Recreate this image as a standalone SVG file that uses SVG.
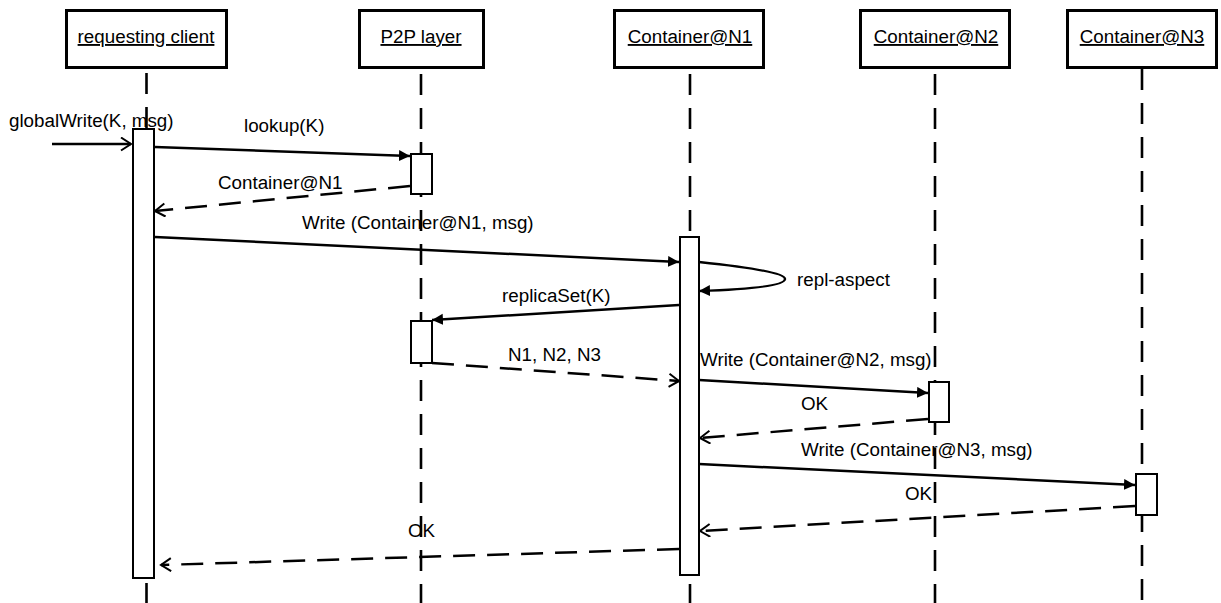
<svg xmlns="http://www.w3.org/2000/svg" width="1221" height="603" viewBox="0 0 1221 603">
<style>
text{font-family:"Liberation Sans",Arial,sans-serif;font-size:18.8px;fill:#000}
.hdr{fill:#fff;stroke:#000;stroke-width:3}
.ul{text-decoration:underline}
.life{stroke:#000;stroke-width:2.6;stroke-dasharray:21 13;fill:none}
.act{fill:#fff;stroke:#000;stroke-width:2}
.msg{stroke:#000;stroke-width:2.5;fill:none;marker-end:url(#filled)}
.ret{stroke:#000;stroke-width:2.5;fill:none;stroke-dasharray:22 12;marker-end:url(#open)}
</style>
<defs>
<marker id="filled" markerUnits="userSpaceOnUse" markerWidth="13" markerHeight="13" refX="11" refY="5.5" orient="auto">
<path d="M0,0 L11,5.5 L0,11 z" fill="#000" stroke="none"/>
</marker>
<marker id="open" markerUnits="userSpaceOnUse" markerWidth="14" markerHeight="16" refX="11" refY="7" orient="auto">
<path d="M1,0.5 L11,7 L1,13.5" fill="none" stroke="#000" stroke-width="2" stroke-dasharray="none"/>
</marker>
</defs>
<rect width="1221" height="603" fill="#fff"/>

<g id="lifelines">
<line class="life" x1="146.5" y1="73" x2="146.5" y2="603"/>
<line class="life" x1="421" y1="74" x2="421" y2="603"/>
<line class="life" x1="690" y1="74" x2="690" y2="603"/>
<line class="life" x1="935" y1="74" x2="935" y2="603"/>
<line class="life" x1="1142" y1="69" x2="1142" y2="603"/>
</g>

<g id="client">
<rect class="hdr" x="66.5" y="10.5" width="160" height="57"/>
<text class="ul" x="146" y="43" text-anchor="middle">requesting client</text>
<rect class="act" x="133" y="129" width="21" height="449"/>
</g>
<g id="p2p">
<rect class="hdr" x="359.5" y="10.5" width="124" height="57"/>
<text class="ul" x="421" y="43" text-anchor="middle">P2P layer</text>
<rect class="act" x="411" y="154" width="21" height="40"/>
<rect class="act" x="411" y="321" width="21" height="42"/>
</g>
<g id="n1">
<rect class="hdr" x="614.5" y="10.5" width="149" height="57"/>
<text class="ul" x="690" y="43" text-anchor="middle">Container@N1</text>
<rect class="act" x="680" y="237" width="19" height="338"/>
</g>
<g id="n2">
<rect class="hdr" x="860.5" y="10.5" width="149" height="57"/>
<text class="ul" x="936" y="43" text-anchor="middle">Container@N2</text>
<rect class="act" x="929" y="382" width="20" height="40"/>
</g>
<g id="n3">
<rect class="hdr" x="1067.5" y="10.5" width="149" height="57"/>
<text class="ul" x="1142" y="43" text-anchor="middle">Container@N3</text>
<rect class="act" x="1136" y="474" width="21" height="41"/>
</g>

<g id="connectors">
<path d="M52,144 L131,144" stroke="#000" stroke-width="2.5" fill="none" marker-end="url(#open)"/>
<path class="msg" d="M155,147 L410,156"/>
<path class="ret" d="M410,186 L155,211"/>
<path class="msg" d="M155,237 L679,262"/>
<path class="msg" d="M699,262 Q785,271 785,279 Q785,288 699,291"/>
<path class="msg" d="M679,305 L432,320"/>
<path class="ret" d="M432,363 L679,381"/>
<path class="msg" d="M699,380 L928,393"/>
<path class="ret" d="M928,419 L700,438"/>
<path class="msg" d="M699,464 L1135,485"/>
<path class="ret" d="M1135,506 L700,531"/>
<path class="ret" d="M679,549 L161,565"/>
</g>

<g id="labels">
<text x="9" y="127">globalWrite(K, msg)</text>
<text x="244" y="132">lookup(K)</text>
<text x="218" y="189">Container@N1</text>
<text x="302" y="229">Write (Container@N1, msg)</text>
<text x="797" y="286">repl-aspect</text>
<text x="502" y="302">replicaSet(K)</text>
<text x="508" y="361">N1, N2, N3</text>
<text x="700" y="366">Write (Container@N2, msg)</text>
<text x="801" y="410">OK</text>
<text x="801" y="456">Write (Container@N3, msg)</text>
<text x="905" y="500">OK</text>
<text x="408" y="537">OK</text>
</g>
</svg>
